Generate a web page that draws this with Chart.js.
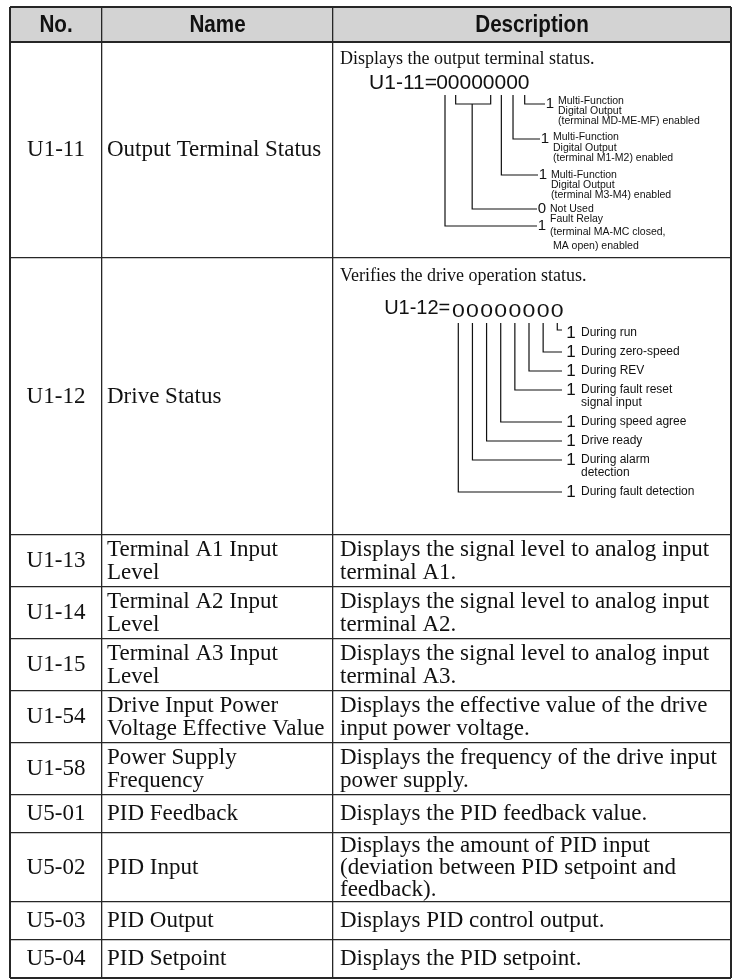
<!DOCTYPE html>
<html><head><meta charset="utf-8">
<script src="https://cdn.jsdelivr.net/npm/chart.js@4/dist/chart.umd.min.js"></script>
<style>html,body{margin:0;padding:0;background:#fff;}#wrap{width:737px;height:980px;}</style>
</head><body><div id="wrap"><canvas id="c" width="737" height="980"></canvas></div>
<script>
// ---------------- data ----------------
const headers = ["No.", "Name", "Description"];
const codes = ["U1-11","U1-12","U1-13","U1-14","U1-15","U1-54","U1-58","U5-01","U5-02","U5-03","U5-04"];
const names = [
  ["Output Terminal Status"], ["Drive Status"],
  ["Terminal A1 Input","Level"], ["Terminal A2 Input","Level"], ["Terminal A3 Input","Level"],
  ["Drive Input Power","Voltage Effective Value"], ["Power Supply","Frequency"],
  ["PID Feedback"], ["PID Input"], ["PID Output"], ["PID Setpoint"]
];
const descriptions = [
  ["Displays the output terminal status."],
  ["Verifies the drive operation status."],
  ["Displays the signal level to analog input","terminal A1."],
  ["Displays the signal level to analog input","terminal A2."],
  ["Displays the signal level to analog input","terminal A3."],
  ["Displays the effective value of the drive","input power voltage."],
  ["Displays the frequency of the drive input","power supply."],
  ["Displays the PID feedback value."],
  ["Displays the amount of PID input","(deviation between PID setpoint and","feedback)."],
  ["Displays PID control output."],
  ["Displays the PID setpoint."]
];
const u111Prefix = "U1-11=";
const u111Digits = "00000000";
const u111Values = ["1","1","1","0","1"];
const u111Labels = [
  ["Multi-Function","Digital Output","(terminal MD-ME-MF) enabled"],
  ["Multi-Function","Digital Output","(terminal M1-M2) enabled"],
  ["Multi-Function","Digital Output","(terminal M3-M4) enabled"],
  ["Not Used"],
  ["Fault Relay","(terminal MA-MC closed,"," MA open) enabled"]
];
const u112Prefix = "U1-12=";
const u112Digits = "00000000";
const u112Values = ["1","1","1","1","1","1","1","1"];
const u112Labels = [
  ["During run"],["During zero-speed"],["During REV"],["During fault reset","signal input"],
  ["During speed agree"],["Drive ready"],["During alarm","detection"],["During fault detection"]
];

// ---------------- layout (not data) ----------------
const colWidths = [92, 231, 398];
const rowHeights = [35, 216, 277, 52, 52, 52, 52, 52, 38, 69, 38, 38];
const colEdges = colWidths.reduce((a,w)=>{a.push(a[a.length-1]+w);return a;},[0]);
const rowEdges = rowHeights.reduce((a,h)=>{a.push(a[a.length-1]+h);return a;},[0]);
const SERIF = '"Liberation Serif","Times New Roman",serif';
const SANS = '"Liberation Sans",Arial,sans-serif';
const bodyFont = '23px ' + SERIF;
const lineStep = n => n>2 ? 22 : 23;

function T(ctx, s, x, y, font, align, sx){
  ctx.save();ctx.font=font;ctx.textAlign=align||'left';ctx.textBaseline='middle';ctx.fillStyle='#111';
  ctx.translate(x,y);ctx.scale(sx||1,1);ctx.fillText(s,0,0);ctx.restore();
}
function L(ctx, pts){ctx.beginPath();ctx.moveTo(pts[0][0],pts[0][1]);for(let i=1;i<pts.length;i++)ctx.lineTo(pts[i][0],pts[i][1]);ctx.stroke();}

const tablePlugin = {
  id:'tablePlugin',
  beforeDraw(chart){
    const {ctx, scales:{x,y}} = chart;
    ctx.save();
    ctx.fillStyle='#fff';ctx.fillRect(0,0,chart.width,chart.height);
    ctx.fillStyle='#d3d3d3';
    const x0=x.getPixelForValue(colEdges[0]), x1=x.getPixelForValue(colEdges[3]);
    const y0=y.getPixelForValue(rowEdges[0]), y1=y.getPixelForValue(rowEdges[1]);
    ctx.fillRect(x0,y0,x1-x0,y1-y0);
    ctx.restore();
  },
  afterDraw(chart){
    const {ctx, scales:{x,y}} = chart;
    ctx.save();
    const cx = i => (x.getPixelForValue(colEdges[i])+x.getPixelForValue(colEdges[i+1]))/2;
    const cl = i => x.getPixelForValue(colEdges[i]);
    const rt = r => y.getPixelForValue(rowEdges[r]);
    const rc = r => (y.getPixelForValue(rowEdges[r])+y.getPixelForValue(rowEdges[r+1]))/2;
    // header
    headers.forEach((h,i)=>T(ctx,h,cx(i),rc(0)+1,'bold 24px '+SANS,'center',0.86));
    // rows
    codes.forEach((c,k)=>{
      const r=k+1, yc=rc(r);
      T(ctx,c,cx(0),yc,bodyFont,'center');
      const n=names[k];
      n.forEach((s,j)=>T(ctx,s,cl(1)+5,yc+(j-(n.length-1)/2)*lineStep(n.length),bodyFont));
      if(k>=2){
        const d=descriptions[k];
        d.forEach((s,j)=>T(ctx,s,cl(2)+7,yc+(j-(d.length-1)/2)*lineStep(d.length),bodyFont));
      }
    });
    ctx.strokeStyle='#111';ctx.lineWidth=1.2;
    // U1-11 diagram
    {
      const ox=cl(2), oy=rt(1)-3;
      T(ctx,descriptions[0][0],ox+7,oy+20,'18px '+SERIF);
      T(ctx,u111Prefix,ox+104,oy+44,'21px '+SANS,'right');
      const dx=i=>ox+109+11.67*i;
      for(let i=0;i<u111Digits.length;i++)T(ctx,u111Digits[i],dx(i),oy+44,'21px '+SANS,'center');
      const top=oy+56;
      const entries=[
        {x:dx(7)+1,y:oy+65,end:ox+212,lab:[-3,7,17]},
        {x:dx(6)+1,y:oy+100,end:ox+207,lab:[-2,9,19]},
        {x:dx(5)+1,y:oy+136,end:ox+205,lab:[0,10,20]},
        {x:(dx(1)+dx(4))/2+1,y:oy+170,end:ox+204,lab:[0]},
        {x:dx(0)+3,y:oy+187,end:ox+204,lab:[-7,6,20]}
      ];
      L(ctx,[[dx(1)+2,top],[dx(1)+2,oy+65],[dx(4)+2,oy+65],[dx(4)+2,top]]);
      entries.forEach((e,i)=>{
        const y0 = i===3 ? oy+65 : top;
        L(ctx,[[e.x,y0],[e.x,e.y],[e.end,e.y]]);
        T(ctx,u111Values[i],e.end+5,e.y,'15px '+SANS,'center');
        u111Labels[i].forEach((s,j)=>T(ctx,s,e.end+13,e.y+e.lab[j],'10.5px '+SANS));
      });
    }
    // U1-12 diagram
    {
      const ox=cl(2), oy=rt(2);
      T(ctx,descriptions[1][0],ox+7,oy+18,'18px '+SERIF);
      const d0 = oy+8;
      const dx=i=>ox+125.3+14.14*i;
      T(ctx,u112Prefix,dx(0)-8,d0+42,'20px '+SANS,'right');
      for(let i=0;i<u112Digits.length;i++)T(ctx,u112Digits[i],dx(i),d0+46,'18px '+SANS,'center',1.28);
      const top=d0+57;
      const ys=[64,86,105,124,156,175,194,226];
      const end=ox+229;
      ys.forEach((yy,i)=>{
        const bx=dx(7-i);
        L(ctx,[[bx,top],[bx,d0+yy],[end,d0+yy]]);
        const ty = i===0 ? d0+yy+3 : d0+yy;
        T(ctx,u112Values[i],ox+238,ty,'17px '+SANS,'center');
        u112Labels[i].forEach((s,j)=>T(ctx,s,ox+248,ty+j*13,'12px '+SANS));
      });
    }
    ctx.restore();
  }
};

const gridW = (edges,ctx)=>{const i=ctx.index;return (i===0||i===edges.length-1)?2:( edges===rowEdges && i===1 ? 2 : 1.3);};

new Chart(document.getElementById('c'),{
  type:'scatter',
  data:{datasets:[]},
  options:{
    responsive:false, animation:false, events:[],
    layout:{padding:{left:10,right:6,top:7,bottom:2}},
    plugins:{legend:{display:false},tooltip:{enabled:false}},
    scales:{
      x:{type:'linear',min:colEdges[0],max:colEdges[colEdges.length-1],
        afterBuildTicks:s=>{s.ticks=colEdges.map(v=>({value:v}));},
        afterFit:s=>{s.height=0;},
        ticks:{display:false},border:{display:false},
        grid:{drawTicks:false,color:'#262626',lineWidth:c=>gridW(colEdges,c)}},
      y:{type:'linear',reverse:true,min:rowEdges[0],max:rowEdges[rowEdges.length-1],
        afterBuildTicks:s=>{s.ticks=rowEdges.map(v=>({value:v}));},
        afterFit:s=>{s.width=0;},
        ticks:{display:false},border:{display:false},
        grid:{drawTicks:false,color:'#262626',lineWidth:c=>gridW(rowEdges,c)}}
    }
  },
  plugins:[tablePlugin]
});
</script></body></html>
